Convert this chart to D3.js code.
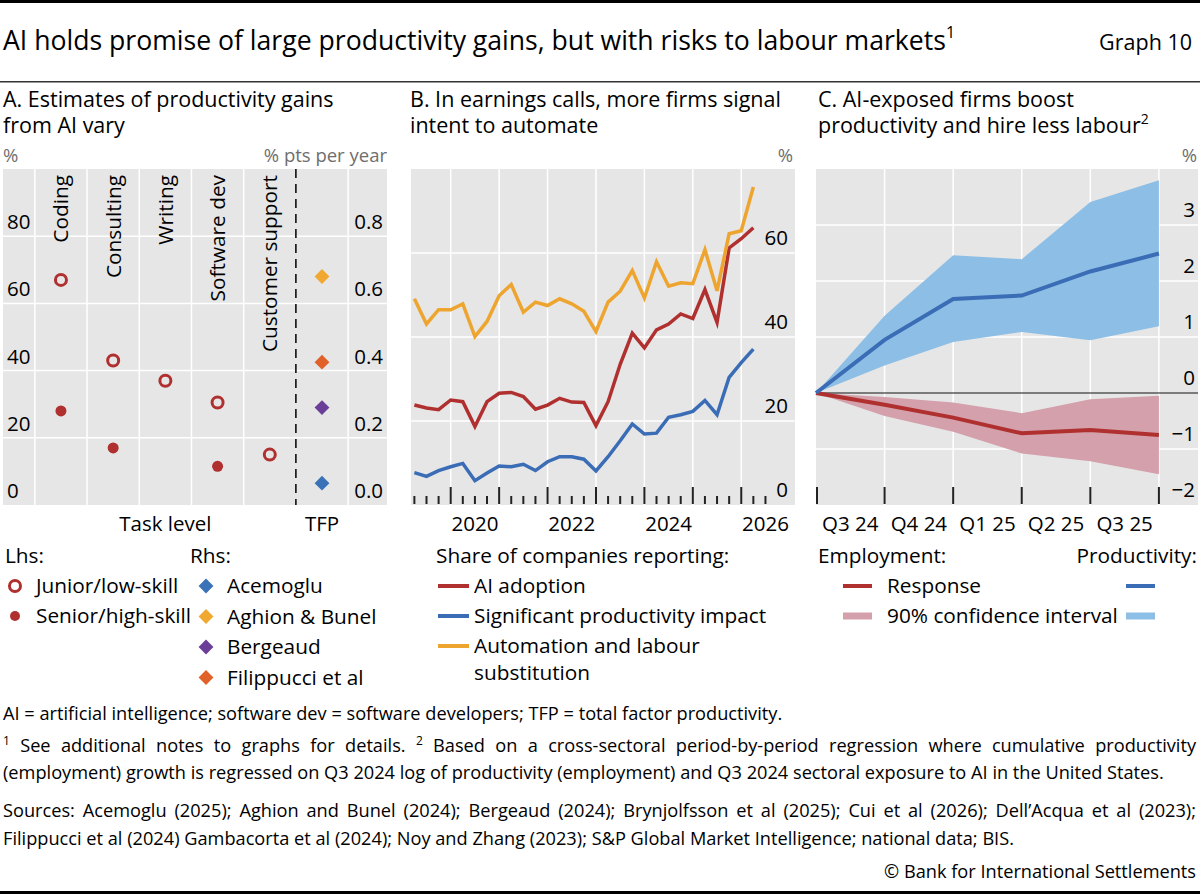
<!DOCTYPE html>
<html>
<head>
<meta charset="utf-8">
<script src="https://cdn.jsdelivr.net/npm/d3@7"></script>
<style>
  body { margin: 0; background: #fff; }
  svg { display: block; font-family: "Open Sans", "Noto Sans", sans-serif; }
</style>
</head>
<body>
<svg id="chart" width="1200" height="894"></svg>
<script>
// ---- Panel A: productivity gain estimates
var tasks = ["Coding", "Consulting", "Writing", "Software dev", "Customer support"];
var juniorGain = [67, 43, 37, 30.5, 15];
var seniorGain = [28, 17, null, 11.5, null];
var tfpStudies = ["Acemoglu", "Aghion & Bunel", "Bergeaud", "Filippucci et al"];
var tfpGain = [0.065, 0.68, 0.29, 0.425];
var tfpColors = ["#3a72b8", "#f0a830", "#6b3f98", "#e0622a"];
var leftTicksA = [0, 20, 40, 60, 80];
var rightTicksA = [0, 0.2, 0.4, 0.6, 0.8];

// ---- Panel B: earnings calls, quarterly shares (%)
var quarters = ["2019Q2", "2019Q3", "2019Q4",
  "2020Q1", "2020Q2", "2020Q3", "2020Q4",
  "2021Q1", "2021Q2", "2021Q3", "2021Q4",
  "2022Q1", "2022Q2", "2022Q3", "2022Q4",
  "2023Q1", "2023Q2", "2023Q3", "2023Q4",
  "2024Q1", "2024Q2", "2024Q3", "2024Q4",
  "2025Q1", "2025Q2", "2025Q3", "2025Q4",
  "2026Q1", "2026Q2"];
var aiAdoption = [23.8, 23.1, 22.7, 25.0, 24.6, 18.7, 24.6, 26.6, 26.8, 25.8, 22.8, 23.8, 25.4, 24.5, 24.4,
  18.9, 24.6, 33.5, 40.9, 37.4, 41.7, 43.1, 45.5, 44.4, 51.3, 43.5, 61.2, 63.4, 66.0];
var prodImpact = [7.7, 6.8, 8.2, 9.1, 9.9, 5.8, 7.6, 9.3, 9.1, 9.7, 8.2, 10.3, 11.5, 11.5, 10.9,
  8.1, 11.5, 15.3, 19.3, 16.9, 17.1, 20.9, 21.5, 22.3, 24.9, 21.5, 30.4, 33.9, 37.1];
var automation = [49.1, 43.1, 46.5, 46.5, 47.9, 40.1, 43.7, 49.8, 52.5, 45.9, 48.3, 47.5, 49.1, 47.9, 46.1,
  41.3, 48.3, 50.9, 55.8, 49.3, 57.9, 52.1, 52.9, 52.7, 60.8, 51.0, 64.6, 65.3, 75.7];
var yearLabels = [2020, 2022, 2024, 2026];
var ticksB = [0, 20, 40, 60];

// ---- Panel C: cumulative response (%), by period
var steps = [0, 1, 2, 3, 4, 5];
var periodLabels = ["Q3 24", "Q4 24", "Q1 25", "Q2 25", "Q3 25"];
var prodResponse = [0, 0.95, 1.68, 1.74, 2.17, 2.49];
var prodUpper = [0, 1.38, 2.46, 2.39, 3.41, 3.80];
var prodLower = [0, 0.49, 0.91, 1.09, 0.94, 1.19];
var empResponse = [0, -0.21, -0.44, -0.72, -0.66, -0.75];
var empUpper = [0, -0.07, -0.17, -0.36, -0.11, -0.05];
var empLower = [0, -0.41, -0.69, -1.08, -1.22, -1.45];
var ticksC = [-2, -1, 0, 1, 2, 3];

var ink = "#000";
var panelBg = "#e6e6e6";
var unitGrey = "#6e6e6e";
var red = "#b0302f";
var blue = "#3a6db5";
var yellow = "#eea52f";
var bandBlue = "#8dbfe6";
var bandRed = "#d3a0ab";

var legendSize = 20.8;
var panelTitleSize = 21.5;
var unitSize = 18.5;

var svg = d3.select("#chart");

function label(txt, x, y, size, anchor, fill) {
  return svg.append("text")
    .attr("x", x).attr("y", y)
    .attr("font-size", size)
    .attr("text-anchor", anchor || "start")
    .attr("fill", fill || ink)
    .text(txt);
}

// ---- header
svg.append("rect").attr("x", 0).attr("y", 0).attr("width", 1200).attr("height", 3).attr("fill", ink);
var title = label("AI holds promise of large productivity gains, but with risks to labour markets", 3, 50, 26.6);
title.append("tspan").attr("font-size", 16).attr("dy", -12).text("1");
label("Graph 10", 1192, 50, 21.5, "end");
svg.append("rect").attr("x", 0).attr("y", 81).attr("width", 1200).attr("height", 1.5).attr("fill", "#333");

label("A. Estimates of productivity gains", 3, 107, panelTitleSize);
label("from AI vary", 3, 133, panelTitleSize);
label("B. In earnings calls, more firms signal", 410, 107, panelTitleSize);
label("intent to automate", 410, 133, panelTitleSize);
label("C. AI-exposed firms boost", 818, 107, panelTitleSize);
var cTitle = label("productivity and hire less labour", 818, 133, panelTitleSize);
cTitle.append("tspan").attr("font-size", 14).attr("dy", -9).text("2");

// ---- Panel A
var aX = d3.scaleLinear().domain([-1.11, 6.245]).range([3, 387]);
var aY = d3.scaleLinear().domain([0, 100]).range([505, 169]);
var aY2 = d3.scaleLinear().domain([0, 1]).range([505, 169]);
var gA = svg.append("g");

gA.append("rect").attr("x", 3).attr("y", 169).attr("width", 384).attr("height", 336).attr("fill", panelBg);
gA.selectAll(".hgrid").data([20, 40, 60, 80]).enter().append("line")
  .attr("x1", 3).attr("x2", 387)
  .attr("y1", function(d) { return aY(d); }).attr("y2", function(d) { return aY(d); })
  .attr("stroke", "#fff").attr("stroke-width", 1.5);
gA.selectAll(".vgrid").data([-0.5, 0.5, 1.5, 2.5, 3.5, 5.5]).enter().append("line")
  .attr("x1", function(d) { return aX(d); }).attr("x2", function(d) { return aX(d); })
  .attr("y1", 169).attr("y2", 505)
  .attr("stroke", "#fff").attr("stroke-width", 1.5);
gA.append("line")
  .attr("x1", aX(4.5)).attr("x2", aX(4.5)).attr("y1", 169).attr("y2", 505)
  .attr("stroke", ink).attr("stroke-width", 1.5).attr("stroke-dasharray", "9,6");

gA.selectAll(".lt").data(leftTicksA).enter().append("text")
  .attr("x", 7).attr("y", function(d) { return aY(d) - 7; })
  .attr("font-size", 20.5).attr("fill", ink).text(function(d) { return d; });
gA.selectAll(".rt").data(rightTicksA).enter().append("text")
  .attr("x", 383).attr("y", function(d) { return aY2(d) - 7; })
  .attr("text-anchor", "end").attr("font-size", 20.5).attr("fill", ink)
  .text(function(d) { return d3.format(".1f")(d); });

gA.selectAll(".task").data(tasks).enter().append("text")
  .attr("transform", function(d, i) { return "translate(" + aX(i) + ",175) rotate(-90)"; })
  .attr("dy", "0.36em").attr("text-anchor", "end")
  .attr("font-size", legendSize).attr("fill", ink).text(function(d) { return d; });

gA.selectAll(".senior").data(seniorGain).enter().filter(function(d) { return d !== null; })
  .append("circle")
  .attr("cx", function(d) { return aX(seniorGain.indexOf(d)); })
  .attr("cy", function(d) { return aY(d); })
  .attr("r", 5.5).attr("fill", red);
gA.selectAll(".junior").data(juniorGain).enter().append("circle")
  .attr("cx", function(d, i) { return aX(i); })
  .attr("cy", function(d) { return aY(d); })
  .attr("r", 5.5).attr("fill", "none").attr("stroke", red).attr("stroke-width", 3);

var diamond = d3.symbol().type(d3.symbolDiamond2 || d3.symbolDiamond).size(140);
gA.selectAll(".tfp").data(tfpGain).enter().append("path")
  .attr("d", diamond)
  .attr("transform", function(d) { return "translate(" + aX(5) + "," + aY2(d) + ")"; })
  .attr("fill", function(d, i) { return tfpColors[i]; });

label("%", 3, 162, unitSize, "start", unitGrey);
label("% pts per year", 387, 162, unitSize, "end", unitGrey);
label("Task level", aX(2), 531, 20.5, "middle");
label("TFP", aX(5), 531, 20.5, "middle");

// legend A
label("Lhs:", 5, 563, legendSize);
label("Rhs:", 190, 563, legendSize);
svg.append("circle").attr("cx", 15).attr("cy", 586).attr("r", 5.5)
  .attr("fill", "none").attr("stroke", red).attr("stroke-width", 3);
label("Junior/low-skill", 36, 593, legendSize);
svg.append("circle").attr("cx", 15).attr("cy", 616).attr("r", 5).attr("fill", red);
label("Senior/high-skill", 36, 623, legendSize);
tfpStudies.forEach(function(s, i) {
  svg.append("path").attr("d", diamond)
    .attr("transform", "translate(206," + (586 + i * 30.5) + ")")
    .attr("fill", tfpColors[i]);
  label(s, 227, 593 + i * 30.5, legendSize);
});

// ---- Panel B
function qPos(q) { return +q.slice(0, 4) + (+q.slice(5) - 1) / 4; }
var bX = d3.scaleLinear().domain([2019.18, 2027.11]).range([411, 795]);
var bY = d3.scaleLinear().domain([0, 80]).range([505, 169]);
var gB = svg.append("g");

gB.append("rect").attr("x", 411).attr("y", 169).attr("width", 384).attr("height", 336).attr("fill", panelBg);
gB.selectAll(".hgrid").data([20, 40, 60]).enter().append("line")
  .attr("x1", 411).attr("x2", 795)
  .attr("y1", function(d) { return bY(d); }).attr("y2", function(d) { return bY(d); })
  .attr("stroke", "#fff").attr("stroke-width", 1.5);
gB.selectAll(".vgrid").data(d3.range(2020, 2027)).enter().append("line")
  .attr("x1", function(d) { return bX(d); }).attr("x2", function(d) { return bX(d); })
  .attr("y1", 169).attr("y2", 505)
  .attr("stroke", "#fff").attr("stroke-width", 1.5);

gB.selectAll(".qtick").data(d3.range(2019.25, 2026.51, 0.25)).enter().append("line")
  .attr("x1", function(d) { return bX(d); }).attr("x2", function(d) { return bX(d); })
  .attr("y1", function(d) { return Math.abs(d - Math.round(d)) < 0.01 ? 487 : 496; })
  .attr("y2", 504)
  .attr("stroke", "#222").attr("stroke-width", 2);

gB.selectAll(".yl").data(ticksB).enter().append("text")
  .attr("x", 788).attr("y", function(d) { return bY(d) - 8; })
  .attr("text-anchor", "end").attr("font-size", 20.5).attr("fill", ink)
  .text(function(d) { return d; });
gB.selectAll(".xl").data(yearLabels).enter().append("text")
  .attr("x", function(d) { return bX(d + 0.5); }).attr("y", 531)
  .attr("text-anchor", "middle").attr("font-size", 20.5).attr("fill", ink)
  .text(function(d) { return d; });
label("%", 793, 162, unitSize, "end", unitGrey);

var seriesB = [
  { name: "AI adoption", values: aiAdoption, color: red },
  { name: "Significant productivity impact", values: prodImpact, color: blue },
  { name: "Automation and labour", values: automation, color: yellow }
];
var lineB = d3.line()
  .x(function(d, i) { return bX(qPos(quarters[i])); })
  .y(function(d) { return bY(d); });
seriesB.forEach(function(s) {
  gB.append("path").attr("d", lineB(s.values))
    .attr("fill", "none").attr("stroke", s.color).attr("stroke-width", 3.5)
    .attr("stroke-linejoin", "miter");
});

// legend B
label("Share of companies reporting:", 436, 563, legendSize);
seriesB.forEach(function(s, i) {
  svg.append("line").attr("x1", 438).attr("x2", 469)
    .attr("y1", 586 + i * 30).attr("y2", 586 + i * 30)
    .attr("stroke", s.color).attr("stroke-width", 4);
  label(s.name, 474, 593 + i * 30, legendSize);
});
label("substitution", 474, 680, legendSize);

// ---- Panel C
var cX = d3.scaleLinear().domain([0, 5.57]).range([816, 1198]);
var cY = d3.scaleLinear().domain([-2, 4]).range([505, 169]);
var gC = svg.append("g");

gC.append("rect").attr("x", 816).attr("y", 169).attr("width", 382).attr("height", 336).attr("fill", panelBg);
gC.selectAll(".hgrid").data([-1, 1, 2, 3]).enter().append("line")
  .attr("x1", 816).attr("x2", 1198)
  .attr("y1", function(d) { return cY(d); }).attr("y2", function(d) { return cY(d); })
  .attr("stroke", "#fff").attr("stroke-width", 1.5);
gC.selectAll(".vgrid").data([1, 2, 3, 4, 5]).enter().append("line")
  .attr("x1", function(d) { return cX(d); }).attr("x2", function(d) { return cX(d); })
  .attr("y1", 169).attr("y2", 505)
  .attr("stroke", "#fff").attr("stroke-width", 1.5);

function band(upper, lower) {
  return d3.area()
    .x(function(d, i) { return cX(steps[i]); })
    .y0(function(d, i) { return cY(lower[i]); })
    .y1(function(d) { return cY(d); })(upper);
}
gC.append("path").attr("d", band(prodUpper, prodLower)).attr("fill", bandBlue);
gC.append("path").attr("d", band(empUpper, empLower)).attr("fill", bandRed);
gC.append("line").attr("x1", 816).attr("x2", 1198).attr("y1", cY(0)).attr("y2", cY(0))
  .attr("stroke", "#111").attr("stroke-width", 1.2);

var lineC = d3.line()
  .x(function(d, i) { return cX(steps[i]); })
  .y(function(d) { return cY(d); });
gC.append("path").attr("d", lineC(empResponse))
  .attr("fill", "none").attr("stroke", red).attr("stroke-width", 4);
gC.append("path").attr("d", lineC(prodResponse))
  .attr("fill", "none").attr("stroke", blue).attr("stroke-width", 4);

gC.selectAll(".tick").data(steps).enter().append("line")
  .attr("x1", function(d) { return cX(d) + (d === 0 ? 1 : 0); })
  .attr("x2", function(d) { return cX(d) + (d === 0 ? 1 : 0); })
  .attr("y1", 487).attr("y2", 504)
  .attr("stroke", "#222").attr("stroke-width", 2);
gC.selectAll(".yl").data(ticksC).enter().append("text")
  .attr("x", 1195).attr("y", function(d) { return cY(d) - 8; })
  .attr("text-anchor", "end").attr("font-size", 20.5).attr("fill", ink)
  .text(function(d) { return d < 0 ? "\u2212" + Math.abs(d) : d; });
gC.selectAll(".xl").data(periodLabels).enter().append("text")
  .attr("x", function(d, i) { return cX(i + 0.5); }).attr("y", 531)
  .attr("text-anchor", "middle").attr("font-size", 20.5).attr("fill", ink)
  .text(function(d) { return d; });
label("%", 1197, 162, unitSize, "end", unitGrey);

// legend C
label("Employment:", 818, 563, legendSize);
label("Productivity:", 1197, 563, legendSize, "end");
svg.append("line").attr("x1", 843).attr("x2", 872).attr("y1", 586).attr("y2", 586)
  .attr("stroke", red).attr("stroke-width", 4);
svg.append("line").attr("x1", 843).attr("x2", 872).attr("y1", 616).attr("y2", 616)
  .attr("stroke", bandRed).attr("stroke-width", 7);
label("Response", 887, 593, legendSize);
label("90% confidence interval", 887, 623, legendSize);
svg.append("line").attr("x1", 1126).attr("x2", 1155).attr("y1", 586).attr("y2", 586)
  .attr("stroke", blue).attr("stroke-width", 4);
svg.append("line").attr("x1", 1126).attr("x2", 1155).attr("y1", 616).attr("y2", 616)
  .attr("stroke", bandBlue).attr("stroke-width", 7);

// ---- footnotes
var noteSize = 18.2;
function noteLine(str, y, justify) {
  var words = str.split(" ");
  var g = svg.append("g");
  var nodes = words.map(function(w) {
    var sup = w.charAt(0) === "^";
    return g.append("text")
      .attr("y", sup ? y - 7 : y)
      .attr("font-size", sup ? 12 : noteSize)
      .attr("fill", ink)
      .text(sup ? w.slice(1) : w);
  });
  var widths = nodes.map(function(n) { return n.node().getComputedTextLength(); });
  var gap = justify ? (1196 - 3 - d3.sum(widths)) / (words.length - 1) : noteSize * 0.26;
  var x = 3;
  nodes.forEach(function(n, i) {
    n.attr("x", x);
    x += widths[i] + gap;
  });
}
noteLine("AI = artificial intelligence; software dev = software developers; TFP = total factor productivity.", 720, false);
noteLine("^1 See additional notes to graphs for details. ^2 Based on a cross-sectoral period-by-period regression where cumulative productivity", 752, true);
noteLine("(employment) growth is regressed on Q3 2024 log of productivity (employment) and Q3 2024 sectoral exposure to AI in the United States.", 779, false);
noteLine("Sources: Acemoglu (2025); Aghion and Bunel (2024); Bergeaud (2024); Brynjolfsson et al (2025); Cui et al (2026); Dell\u2019Acqua et al (2023);", 817, true);
noteLine("Filippucci et al (2024) Gambacorta et al (2024); Noy and Zhang (2023); S&P Global Market Intelligence; national data; BIS.", 845, false);
label("\u00a9 Bank for International Settlements", 1196, 878, noteSize, "end");
svg.append("rect").attr("x", 0).attr("y", 891).attr("width", 1200).attr("height", 3).attr("fill", ink);
</script>
</body>
</html>
